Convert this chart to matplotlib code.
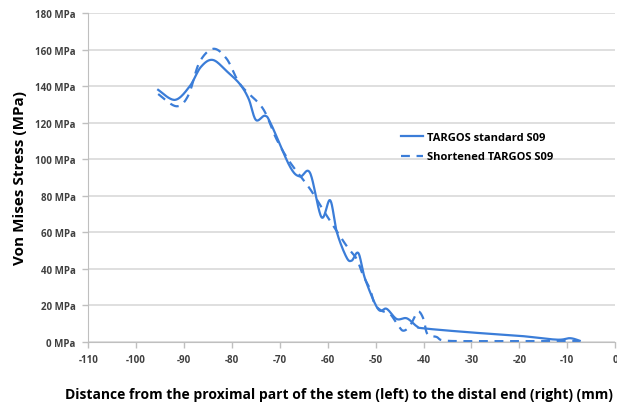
import matplotlib.pyplot as plt
import numpy as np

# values (distance in mm, stress in MPa)
std_x = [-95.4, -91.9, -88.8, -86.5, -84.0, -81.0, -78.3, -76.5, -75.0, -73.1, -71.8,
         -67.9, -65.8, -63.7, -61.3, -59.5, -58.1, -56.1, -55.0, -53.6, -52.2, -49.5,
         -47.7, -45.6, -43.5, -41.4, -40.0, -30.3, -20.0, -12.2, -9.4, -7.4]
std_y = [138.0, 132.5, 140.0, 150.5, 154.4, 148.0, 141.0, 133.0, 121.5, 123.8, 119.0,
         96.0, 90.5, 92.5, 68.2, 77.5, 60.0, 46.3, 44.4, 48.5, 34.4, 17.9,
         18.0, 12.4, 12.8, 8.4, 7.3, 5.1, 3.2, 1.1, 1.9, 0.5]

short_x = [-95.4, -91.6, -89.1, -86.8, -83.9, -81.1, -79.0, -77.3, -73.5, -70.7, -67.9,
           -63.7, -60.2, -56.1, -54.0, -52.6, -51.2, -50.2, -48.8, -47.0, -45.3, -44.2,
           -42.8, -41.2, -40.0, -39.2, -37.3, -35.2, -25.0, -15.0, -7.4]
short_y = [135.7, 129.0, 135.0, 153.0, 160.5, 155.0, 144.0, 138.0, 127.6, 111.0, 98.4,
           83.7, 69.0, 52.6, 45.5, 36.2, 28.9, 20.7, 17.0, 15.2, 8.8, 6.0,
           8.8, 16.4, 12.4, 4.2, 2.6, 0.5, 0.3, 0.3, 0.3]

series_names = ['TARGOS standard S09', 'Shortened TARGOS S09']
y_ticks = [0, 20, 40, 60, 80, 100, 120, 140, 160, 180]
x_ticks = [-110, -100, -90, -80, -70, -60, -50, -40, -30, -20, -10, 0]


# smooth line through the points, like Excel's "smoothed line"
def smooth(xs, ys, n=20):
    p = np.column_stack([xs, ys]).astype(float)
    p = np.vstack([p[0], p, p[-1]])
    out = []
    t = np.linspace(0, 1, n, endpoint=False)[:, None]
    for i in range(1, len(p) - 2):
        p0, p1, p2, p3 = p[i - 1], p[i], p[i + 1], p[i + 2]
        seg = 0.5 * ((2 * p1) + (-p0 + p2) * t + (2 * p0 - 5 * p1 + 4 * p2 - p3) * t ** 2
                     + (-p0 + 3 * p1 - 3 * p2 + p3) * t ** 3)
        out.append(seg)
    out.append(p[-2][None, :])
    out = np.vstack(out)
    return out[:, 0], out[:, 1]


plt.rcParams['font.family'] = ['Open Sans', 'DejaVu Sans']
blue = '#3b7dd8'
grey = '#bfbfbf'

fig = plt.figure(figsize=(6.17, 4.06), dpi=100)
ax = fig.add_axes([0.143, 0.156, 0.854, 0.809])

sx, sy = smooth(std_x, std_y)
ax.plot(sx, sy, color=blue, lw=1.6, label=series_names[0])
dx, dy = smooth(short_x, short_y)
ax.plot(dx, dy, color=blue, lw=1.6, dashes=(4, 3), label=series_names[1])

ax.set_xlim(-110, 0)
ax.set_ylim(0, 180)
ax.set_xticks(x_ticks)
ax.set_yticks(y_ticks)
ax.set_xticklabels([str(v) for v in x_ticks], fontsize=7, fontweight='bold')
ax.set_yticklabels([f'{v} MPa' for v in y_ticks], fontsize=7, fontweight='bold')
ax.yaxis.grid(True, color='#d9d9d9', lw=1.2)
ax.set_axisbelow(True)
for s in ['top', 'right']:
    ax.spines[s].set_visible(False)
for s in ['left', 'bottom']:
    ax.spines[s].set_color(grey)
ax.tick_params(axis='both', colors=grey, length=4, width=1, pad=5)
for lab in ax.get_xticklabels() + ax.get_yticklabels():
    lab.set_color('#404040')

ax.set_ylabel('Von Mises Stress (MPa)', fontsize=11, fontweight='bold', labelpad=6)
fig.text(0.549, 0.028, 'Distance from the proximal part of the stem (left) to the distal end (right) (mm)',
         ha='center', va='center', fontsize=10, fontweight='bold')

ax.legend(loc='upper left', bbox_to_anchor=(0.575, 0.67), frameon=False,
          handlelength=2.0, handletextpad=0.3, labelspacing=0.8,
          prop={'weight': 'bold', 'size': 8})

fig.savefig('out.png', dpi=100)
